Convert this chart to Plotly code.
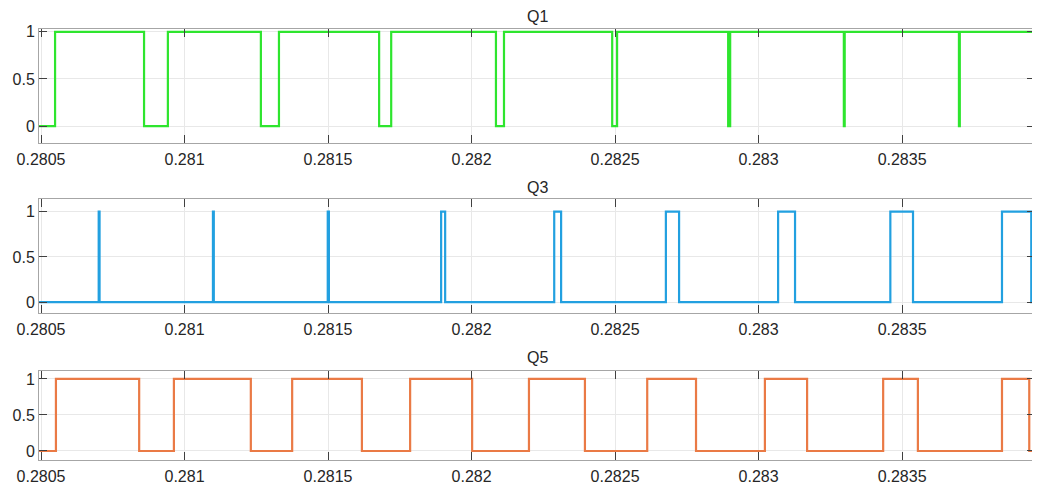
import plotly.graph_objects as go

# ---- data ----
x_range = [0.280493, 0.283963]
x_ticks = [0.2805, 0.281, 0.2815, 0.282, 0.2825, 0.283, 0.2835]
x_tick_labels = ["0.2805", "0.281", "0.2815", "0.282", "0.2825", "0.283", "0.2835"]
y_ticks = [0, 0.5, 1]
y_tick_labels = ["0", "0.5", "1"]

panel_titles = ["Q1", "Q3", "Q5"]
initial_states = [0, 0, 0]

q1_edges = [0.280549, 0.280859, 0.280942, 0.281266, 0.281329, 0.281678, 0.281720,
            0.282085, 0.282113, 0.282490, 0.282507, 0.282894, 0.282901,
            0.283297, 0.283300, 0.283698, 0.283701]
q3_edges = [0.280701, 0.280704, 0.281099, 0.281102, 0.281499, 0.281503,
            0.281894, 0.281908, 0.282288, 0.282312, 0.282677, 0.282723,
            0.283068, 0.283127, 0.283459, 0.283538, 0.283848, 0.283950]
q5_edges = [0.280552, 0.280842, 0.280963, 0.281231, 0.281375, 0.281618, 0.281786,
            0.282002, 0.282200, 0.282395, 0.282612, 0.282782, 0.283022, 0.283169,
            0.283434, 0.283555, 0.283848, 0.283943]

edges_all = [q1_edges, q3_edges, q5_edges]
colors = ["#2ee52e", "#22a0e0", "#ea7a45"]
y_ranges = [[-0.18, 1.03], [-0.12, 1.14], [-0.125, 1.11]]

# pixel layout: page body has an 8px margin, so the figure is 8px smaller
OFF = 8
W, H = 1040 - OFF, 489 - OFF
x_dom = [(39 - OFF) / W, (1035 - OFF) / W]
panel_px = [(29, 143), (199, 313), (371, 460)]
title_px = [17, 187, 357]
title_x = 537


def step_xy(edges, s0, x0, x1):
    xs = [x0]
    ys = [s0]
    s = s0
    for e in edges:
        s = 1 - s
        xs.append(e)
        ys.append(s)
    xs.append(x1)
    ys.append(s)
    return xs, ys


fig = go.Figure()
font_family = "Arial, Liberation Sans, Helvetica, sans-serif"
layout = dict(
    width=W, height=H,
    margin=dict(l=0, r=0, t=0, b=0, autoexpand=False),
    paper_bgcolor="white", plot_bgcolor="white",
    showlegend=False,
    font=dict(family=font_family, size=16, color="#262626"),
    annotations=[],
)

for i in range(3):
    xs, ys = step_xy(edges_all[i], initial_states[i], x_range[0], x_range[1])
    suffix = "" if i == 0 else str(i + 1)
    fig.add_trace(go.Scatter(
        x=xs, y=ys, mode="lines", line_shape="hv",
        line=dict(color=colors[i], width=2.2),
        xaxis="x" + suffix, yaxis="y" + suffix, hoverinfo="skip",
    ))
    top, bot = panel_px[i]
    dom = [1 - (bot - OFF) / H, 1 - (top - OFF) / H]
    common = dict(
        showline=True, linecolor="#a6a6a6", linewidth=1, mirror="ticks",
        showgrid=True, gridcolor="#e8e8e8", gridwidth=1,
        ticks="inside", ticklen=8, tickcolor="#404040", tickwidth=1,
        zeroline=False, tickfont=dict(size=16, color="#262626"),
        automargin=False,
    )
    layout["xaxis" + suffix] = dict(
        domain=x_dom, range=x_range, tickvals=x_ticks, ticktext=x_tick_labels,
        anchor="y" + suffix, ticklabelstandoff=2, **common,
    )
    layout["yaxis" + suffix] = dict(
        domain=dom, range=y_ranges[i], tickvals=y_ticks, ticktext=y_tick_labels,
        anchor="x" + suffix, **common,
    )
    layout["annotations"].append(dict(
        text=panel_titles[i], x=(title_x - OFF) / W, y=1 - (title_px[i] - OFF) / H,
        xref="paper", yref="paper", showarrow=False,
        xanchor="center", yanchor="middle",
        font=dict(size=16, color="#262626", family=font_family),
    ))

fig.update_layout(**layout)
fig.write_html("out.html")
